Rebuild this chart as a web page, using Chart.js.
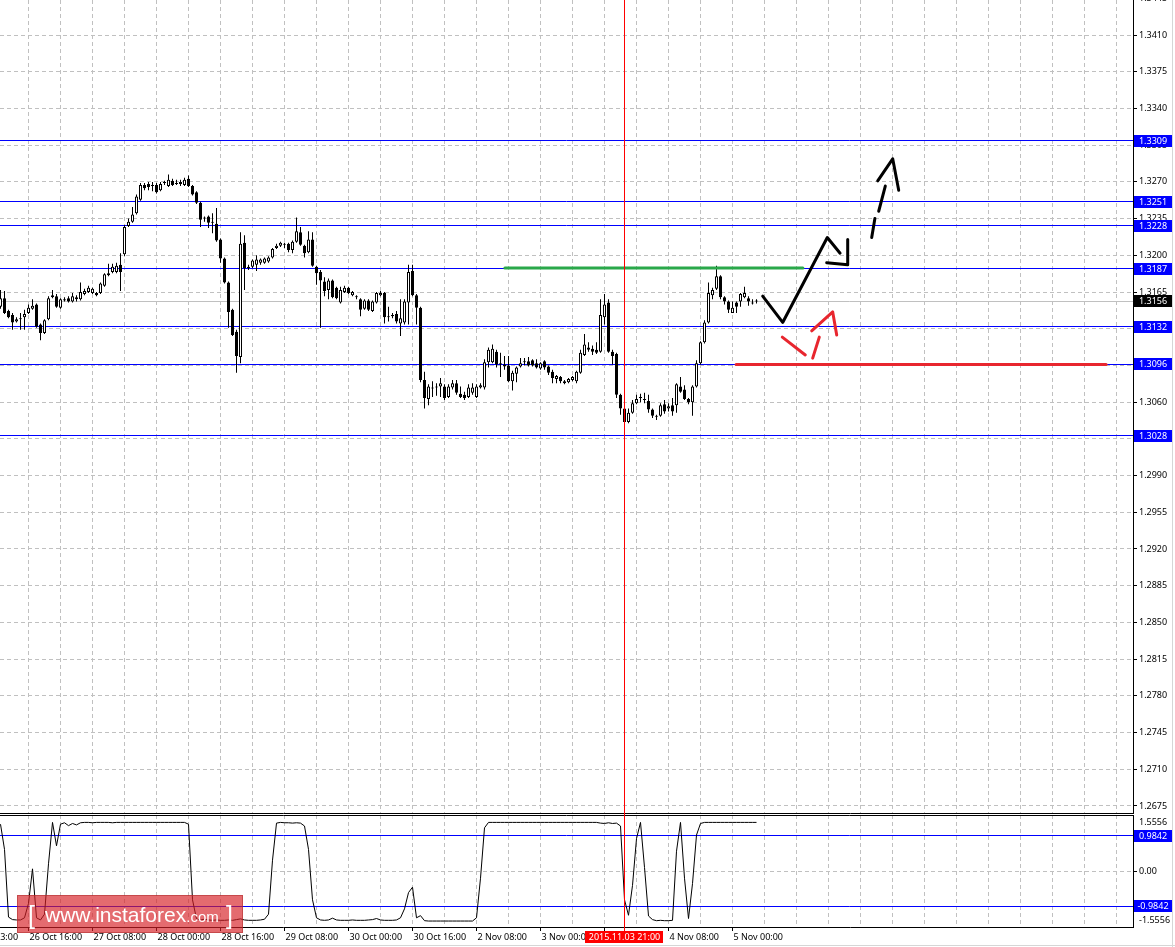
<!DOCTYPE html>
<html>
<head>
<meta charset="utf-8">
<title>EURUSD H1</title>
<script src="https://cdn.jsdelivr.net/npm/chart.js@4.4.0/dist/chart.umd.min.js"></script>
<style>
  html, body { margin: 0; padding: 0; background: #fff; }
  #wrap { position: relative; width: 1175px; height: 947px; overflow: hidden; }
  #priceChart { position: absolute; left: 0; top: 0; }
  #oscChart { position: absolute; left: 0; top: 814px; }
  #edgeRight { position: absolute; left: 1172px; top: 0; width: 1px; height: 947px; background: #d6d6d6; }
  #edgeBottom { position: absolute; left: 0; top: 945px; width: 1175px; height: 1px; background: #d6d6d6; }
</style>
</head>
<body>
<div id="wrap">
  <canvas id="priceChart" width="1175" height="814"></canvas>
  <canvas id="oscChart" width="1175" height="133"></canvas>
  <div id="edgeRight"></div>
  <div id="edgeBottom"></div>
</div>
<script>
// H1 bars, bar 0 = 26 Oct 09:00, bar 156 = 2015.11.03 21:00 (the red marker)
const opens = [
  1.3151, 1.3159, 1.3147, 1.3143, 1.3137, 1.3139, 1.3141, 1.3145, 1.3149, 1.3153,
  1.3134, 1.3126, 1.3139, 1.3160, 1.3161, 1.3150, 1.3158, 1.3159, 1.3156, 1.3160,
  1.3158, 1.3163, 1.3165, 1.3164, 1.3164, 1.3164, 1.3171, 1.3181, 1.3184, 1.3184,
  1.3191, 1.3201, 1.3228, 1.3232, 1.3240, 1.3253, 1.3267, 1.3268, 1.3267, 1.3267,
  1.3262, 1.3269, 1.3266, 1.3271, 1.3269, 1.3270, 1.3267, 1.3273, 1.3266, 1.3260,
  1.3250, 1.3236, 1.3237, 1.3232, 1.3230, 1.3215, 1.3197, 1.3174, 1.3148, 1.3127,
  1.3103, 1.3212, 1.3188, 1.3189, 1.3191, 1.3193, 1.3193, 1.3194, 1.3198, 1.3207,
  1.3209, 1.3210, 1.3211, 1.3205, 1.3213, 1.3222, 1.3209, 1.3203, 1.3215, 1.3189,
  1.3184, 1.3175, 1.3167, 1.3176, 1.3169, 1.3155, 1.3165, 1.3169, 1.3162, 1.3160,
  1.3158, 1.3149, 1.3157, 1.3147, 1.3155, 1.3162, 1.3164, 1.3142, 1.3143, 1.3144,
  1.3135, 1.3136, 1.3155, 1.3185, 1.3162, 1.3150, 1.3081, 1.3063, 1.3074, 1.3074,
  1.3075, 1.3075, 1.3065, 1.3074, 1.3078, 1.3068, 1.3067, 1.3065, 1.3069, 1.3065,
  1.3074, 1.3074, 1.3098, 1.3098, 1.3108, 1.3097, 1.3096, 1.3095, 1.3080, 1.3087,
  1.3094, 1.3099, 1.3099, 1.3100, 1.3097, 1.3092, 1.3099, 1.3094, 1.3089, 1.3082,
  1.3084, 1.3080, 1.3079, 1.3081, 1.3080, 1.3088, 1.3105, 1.3112, 1.3111, 1.3110,
  1.3108, 1.3141, 1.3155, 1.3108, 1.3106, 1.3067, 1.3054, 1.3041, 1.3050, 1.3059,
  1.3065, 1.3063, 1.3061, 1.3053, 1.3047, 1.3047, 1.3058, 1.3054, 1.3057, 1.3057,
  1.3075, 1.3072, 1.3063, 1.3060, 1.3075, 1.3097, 1.3117, 1.3136, 1.3162, 1.3168,
  1.3180, 1.3160, 1.3156, 1.3145, 1.3155, 1.3156, 1.3160, 1.3159, 1.3155, 1.3156
];
const highs = [
  1.3167, 1.3166, 1.3148, 1.3145, 1.3141, 1.3145, 1.3148, 1.3153, 1.3158, 1.3154,
  1.3135, 1.3139, 1.3161, 1.3167, 1.3163, 1.3159, 1.3160, 1.3161, 1.3164, 1.3162,
  1.3174, 1.3168, 1.3171, 1.3169, 1.3165, 1.3174, 1.3183, 1.3192, 1.3192, 1.3193,
  1.3202, 1.3229, 1.3235, 1.3246, 1.3258, 1.3269, 1.3269, 1.3270, 1.3270, 1.3269,
  1.3270, 1.3271, 1.3277, 1.3273, 1.3272, 1.3272, 1.3274, 1.3276, 1.3267, 1.3261,
  1.3251, 1.3237, 1.3238, 1.3240, 1.3245, 1.3216, 1.3198, 1.3175, 1.3149, 1.3129,
  1.3222, 1.3219, 1.3191, 1.3196, 1.3200, 1.3197, 1.3198, 1.3199, 1.3207, 1.3211,
  1.3213, 1.3212, 1.3212, 1.3214, 1.3236, 1.3227, 1.3210, 1.3223, 1.3222, 1.3190,
  1.3186, 1.3179, 1.3178, 1.3177, 1.3170, 1.3170, 1.3171, 1.3170, 1.3166, 1.3162,
  1.3159, 1.3158, 1.3158, 1.3157, 1.3165, 1.3166, 1.3165, 1.3151, 1.3145, 1.3147,
  1.3158, 1.3158, 1.3191, 1.3191, 1.3163, 1.3151, 1.3089, 1.3077, 1.3080, 1.3078,
  1.3083, 1.3077, 1.3077, 1.3081, 1.3081, 1.3075, 1.3070, 1.3077, 1.3078, 1.3077,
  1.3078, 1.3101, 1.3112, 1.3115, 1.3110, 1.3107, 1.3104, 1.3104, 1.3090, 1.3094,
  1.3102, 1.3102, 1.3103, 1.3101, 1.3101, 1.3098, 1.3100, 1.3095, 1.3091, 1.3086,
  1.3085, 1.3081, 1.3083, 1.3085, 1.3090, 1.3110, 1.3125, 1.3117, 1.3114, 1.3117,
  1.3158, 1.3163, 1.3158, 1.3110, 1.3107, 1.3068, 1.3055, 1.3054, 1.3062, 1.3067,
  1.3068, 1.3069, 1.3067, 1.3054, 1.3048, 1.3059, 1.3062, 1.3059, 1.3064, 1.3078,
  1.3084, 1.3076, 1.3064, 1.3076, 1.3100, 1.3118, 1.3138, 1.3174, 1.3169, 1.3190,
  1.3181, 1.3161, 1.3157, 1.3156, 1.3156, 1.3164, 1.3170, 1.3161, 1.3158, 1.3158
];
const lows = [
  1.3149, 1.3144, 1.3140, 1.3129, 1.3136, 1.3129, 1.3129, 1.3144, 1.3148, 1.3131,
  1.3119, 1.3125, 1.3138, 1.3159, 1.3150, 1.3149, 1.3156, 1.3155, 1.3155, 1.3156,
  1.3157, 1.3162, 1.3164, 1.3163, 1.3161, 1.3163, 1.3170, 1.3180, 1.3183, 1.3183,
  1.3166, 1.3199, 1.3227, 1.3231, 1.3239, 1.3252, 1.3262, 1.3262, 1.3261, 1.3259,
  1.3261, 1.3267, 1.3265, 1.3266, 1.3267, 1.3266, 1.3266, 1.3265, 1.3257, 1.3249,
  1.3227, 1.3232, 1.3226, 1.3221, 1.3213, 1.3193, 1.3173, 1.3131, 1.3123, 1.3088,
  1.3097, 1.3167, 1.3186, 1.3188, 1.3185, 1.3191, 1.3192, 1.3193, 1.3197, 1.3206,
  1.3208, 1.3207, 1.3203, 1.3202, 1.3212, 1.3209, 1.3198, 1.3202, 1.3189, 1.3172,
  1.3131, 1.3161, 1.3158, 1.3159, 1.3158, 1.3154, 1.3164, 1.3163, 1.3161, 1.3158,
  1.3142, 1.3148, 1.3147, 1.3146, 1.3154, 1.3161, 1.3135, 1.3137, 1.3140, 1.3135,
  1.3123, 1.3134, 1.3134, 1.3161, 1.3134, 1.3079, 1.3054, 1.3057, 1.3065, 1.3066,
  1.3065, 1.3062, 1.3064, 1.3072, 1.3067, 1.3064, 1.3062, 1.3064, 1.3067, 1.3064,
  1.3073, 1.3072, 1.3093, 1.3097, 1.3093, 1.3084, 1.3091, 1.3079, 1.3071, 1.3079,
  1.3093, 1.3095, 1.3094, 1.3094, 1.3092, 1.3091, 1.3091, 1.3086, 1.3078, 1.3078,
  1.3078, 1.3077, 1.3078, 1.3080, 1.3078, 1.3087, 1.3104, 1.3108, 1.3105, 1.3106,
  1.3107, 1.3134, 1.3107, 1.3096, 1.3064, 1.3048, 1.3039, 1.3040, 1.3049, 1.3058,
  1.3060, 1.3059, 1.3050, 1.3045, 1.3043, 1.3046, 1.3049, 1.3051, 1.3047, 1.3050,
  1.3069, 1.3062, 1.3058, 1.3047, 1.3074, 1.3096, 1.3116, 1.3135, 1.3158, 1.3167,
  1.3158, 1.3153, 1.3145, 1.3145, 1.3145, 1.3151, 1.3159, 1.3152, 1.3153, 1.3154
];
const closes = [
  1.3159, 1.3145, 1.3141, 1.3136, 1.3139, 1.3139, 1.3144, 1.3150, 1.3152, 1.3132,
  1.3126, 1.3138, 1.3159, 1.3162, 1.3151, 1.3158, 1.3157, 1.3156, 1.3161, 1.3158,
  1.3165, 1.3166, 1.3169, 1.3168, 1.3162, 1.3173, 1.3182, 1.3183, 1.3189, 1.3190,
  1.3184, 1.3227, 1.3232, 1.3239, 1.3256, 1.3267, 1.3264, 1.3265, 1.3266, 1.3260,
  1.3268, 1.3270, 1.3272, 1.3267, 1.3268, 1.3268, 1.3272, 1.3266, 1.3258, 1.3250,
  1.3234, 1.3235, 1.3231, 1.3231, 1.3214, 1.3197, 1.3174, 1.3146, 1.3124, 1.3104,
  1.3211, 1.3188, 1.3189, 1.3195, 1.3196, 1.3196, 1.3197, 1.3198, 1.3206, 1.3209,
  1.3212, 1.3211, 1.3205, 1.3213, 1.3223, 1.3210, 1.3202, 1.3215, 1.3190, 1.3183,
  1.3176, 1.3166, 1.3176, 1.3160, 1.3159, 1.3167, 1.3169, 1.3164, 1.3165, 1.3161,
  1.3148, 1.3157, 1.3148, 1.3156, 1.3164, 1.3164, 1.3141, 1.3141, 1.3142, 1.3137,
  1.3140, 1.3156, 1.3184, 1.3162, 1.3150, 1.3081, 1.3064, 1.3075, 1.3073, 1.3075,
  1.3078, 1.3064, 1.3075, 1.3078, 1.3069, 1.3065, 1.3064, 1.3074, 1.3074, 1.3075,
  1.3076, 1.3098, 1.3110, 1.3111, 1.3096, 1.3096, 1.3094, 1.3080, 1.3088, 1.3093,
  1.3097, 1.3098, 1.3095, 1.3095, 1.3093, 1.3097, 1.3093, 1.3088, 1.3083, 1.3085,
  1.3080, 1.3078, 1.3082, 1.3084, 1.3089, 1.3107, 1.3115, 1.3110, 1.3108, 1.3107,
  1.3143, 1.3153, 1.3108, 1.3104, 1.3067, 1.3054, 1.3041, 1.3050, 1.3059, 1.3063,
  1.3064, 1.3062, 1.3053, 1.3047, 1.3046, 1.3057, 1.3051, 1.3056, 1.3051, 1.3077,
  1.3070, 1.3063, 1.3060, 1.3075, 1.3097, 1.3117, 1.3136, 1.3164, 1.3167, 1.3180,
  1.3160, 1.3156, 1.3148, 1.3150, 1.3151, 1.3163, 1.3164, 1.3156, 1.3154, 1.3156
];

// lower window oscillator, one value per bar
const oscValues = [
  1.30, 0.60, -1.28, -1.35, -1.36, -1.36, -1.30, -0.90, 0.06, -1.30,
  -1.36, -1.20, 0.20, 1.35, 0.70, 1.30, 1.34, 1.26, 1.32, 1.28,
  1.34, 1.35, 1.35, 1.34, 1.35, 1.35, 1.35, 1.35, 1.34, 1.35,
  1.35, 1.35, 1.35, 1.35, 1.35, 1.35, 1.35, 1.35, 1.35, 1.35,
  1.35, 1.35, 1.35, 1.35, 1.35, 1.35, 1.35, 1.30, -0.80, -1.33,
  -1.36, -1.34, -1.36, -1.37, -1.36, -1.37, -1.37, -1.36, -1.37, -1.35,
  -1.33, -1.36, -1.37, -1.37, -1.37, -1.36, -1.34, -1.20, 0.30, 1.33,
  1.35, 1.34, 1.34, 1.33, 1.34, 1.33, 1.25, 0.60, -0.80, -1.30,
  -1.36, -1.37, -1.36, -1.31, -1.36, -1.37, -1.37, -1.37, -1.36, -1.37,
  -1.37, -1.37, -1.36, -1.35, -1.32, -1.36, -1.37, -1.37, -1.37, -1.36,
  -1.30, -1.05, -0.60, -0.45, -1.30, -1.24, -1.38, -1.39, -1.39, -1.39,
  -1.39, -1.39, -1.39, -1.39, -1.39, -1.39, -1.39, -1.39, -1.39, -1.30,
  -0.20, 1.20, 1.35, 1.35, 1.35, 1.35, 1.35, 1.35, 1.35, 1.35,
  1.35, 1.35, 1.35, 1.35, 1.35, 1.35, 1.35, 1.35, 1.35, 1.35,
  1.35, 1.35, 1.35, 1.35, 1.35, 1.35, 1.35, 1.35, 1.35, 1.35,
  1.33, 1.32, 1.34, 1.32, 1.33, 1.25, -0.80, -1.23, -0.40, 0.90,
  1.35, 0.10, -1.25, -1.35, -1.38, -1.37, -1.38, -1.38, -1.37, 0.55,
  1.35, -0.20, -1.32, -0.35, 1.00, 1.32, 1.35, 1.35, 1.35, 1.35,
  1.35, 1.35, 1.35, 1.35, 1.35, 1.35, 1.35, 1.35, 1.35, 1.35
];

// horizontal levels and axis labels
const levelPrices = [1.3309, 1.3251, 1.3228, 1.3187, 1.3132, 1.3096, 1.3028];
const lastPrice = 1.3156;
const priceTicks = [1.2675, 1.2710, 1.2745, 1.2780, 1.2815, 1.2850, 1.2885, 1.2920, 1.2955, 1.2990,
  1.3025, 1.3060, 1.3095, 1.3130, 1.3165, 1.3200, 1.3235, 1.3270, 1.3305, 1.3340, 1.3375, 1.3410, 1.3445];
const oscLevels = [0.9842, -0.9842];
const oscTicks = [1.36, 0, -1.36];
const oscTickLabels = ['1.5556', '0.00', '-1.5556'];
const timeTickBars = [-9, 7, 23, 39, 55, 71, 87, 103, 119, 135, 151, 167, 183];
const timeTickLabels = ['25 Oct 23:00', '26 Oct 16:00', '27 Oct 08:00', '28 Oct 00:00', '28 Oct 16:00',
  '29 Oct 08:00', '30 Oct 00:00', '30 Oct 16:00', '2 Nov 08:00', '3 Nov 00:00', '3 Nov 16:00',
  '4 Nov 08:00', '5 Nov 00:00'];
const markerBar = 156;
const markerLabel = '2015.11.03 21:00';

// hand drawn analysis marks, [bar, price], null = pen lifted
const greenLine = [[126.1, 1.3188], [200.6, 1.3188]];
const redLevel = [[183.9, 1.3096], [276.4, 1.3096]];
const blackPath = [[190.55, 1.3161], [195.55, 1.3136], [206.7, 1.3217], [209.9, 1.3202], null,
  [206.55, 1.3193], [211.8, 1.3191], [211.8, 1.3215]];
const blackDashed = [[217.8, 1.3217], [218.6, 1.3235], null, [219.55, 1.3242], [221.2, 1.3266], null,
  [219.3, 1.3271], [223.05, 1.3292], [224.55, 1.3262]];
const redPath = [[195.45, 1.3122], [201.2, 1.3105], null, [203.05, 1.3102], [204.7, 1.3122], null,
  [202.8, 1.3128], [208.05, 1.3146], [209.05, 1.3124]];

// ---- layout ----
const xMin = -0.125, xMax = 283.125;     // 4 px per bar
const yMin = 1.26683, yMax = 1.34434;
const gridColor = '#c0c0c0';
const levelBlue = '#0000ff';
const axisFont = { family: 'Noto Sans', size: 9 };
const gridBars = [];
for (let b = -9; b <= xMax; b += 8) gridBars.push(b);

function toPoints(list) {
  return list.map(p => p ? { x: p[0], y: p[1] } : { x: null, y: null });
}
function timeLabel(v) {
  const k = timeTickBars.indexOf(v);
  return k >= 0 ? timeTickLabels[k] : '';
}
function hline(ctx, area, py) {
  const yy = Math.round(py - 0.5) + 0.5;
  ctx.beginPath();
  ctx.moveTo(area.left, yy);
  ctx.lineTo(area.right, yy);
  ctx.stroke();
}
function axisTag(ctx, left, py, text, color) {
  const yy = Math.round(py);
  ctx.fillStyle = color;
  ctx.fillRect(left, yy - 6, 38, 12);
  ctx.fillStyle = '#fff';
  ctx.font = '9px "Noto Sans"';
  ctx.textAlign = 'center';
  ctx.textBaseline = 'middle';
  ctx.fillText(text, left + 19, yy + 0.5);
}
function markerLine(chart, bottom) {
  const ctx = chart.ctx;
  const px = Math.round(chart.scales.x.getPixelForValue(markerBar) - 0.5) + 0.5;
  ctx.save();
  ctx.strokeStyle = '#ff0000';
  ctx.lineWidth = 1;
  ctx.beginPath();
  ctx.moveTo(px, 0);
  ctx.lineTo(px, bottom);
  ctx.stroke();
  ctx.restore();
}

const bars = opens.map((o, i) => i);
const wickData = bars.map(i => ({ x: i, y: [lows[i], highs[i]] }));
const bodyData = bars.map(i => ({ x: i, y: [opens[i], closes[i]] }));

function drawing(data, color) {
  return {
    type: 'line', data: toPoints(data), borderColor: color, borderWidth: 3,
    pointRadius: 0, spanGaps: false, tension: 0, order: 0,
    borderJoinStyle: 'round', borderCapStyle: 'round'
  };
}

// ---- price window ----
const priceOverlay = {
  id: 'priceOverlay',
  beforeDatasetsDraw(chart) {
    const { ctx, chartArea, scales: { y } } = chart;
    ctx.save();
    ctx.lineWidth = 1;
    ctx.strokeStyle = gridColor;
    hline(ctx, chartArea, y.getPixelForValue(lastPrice));
    ctx.strokeStyle = levelBlue;
    levelPrices.forEach(p => hline(ctx, chartArea, y.getPixelForValue(p)));
    ctx.restore();
  },
  afterDatasetsDraw(chart) {
    markerLine(chart, chart.height);
  },
  afterDraw(chart) {
    const { ctx, chartArea, scales: { y } } = chart;
    ctx.save();
    levelPrices.forEach(p => axisTag(ctx, chartArea.right + 1, y.getPixelForValue(p), p.toFixed(4), levelBlue));
    axisTag(ctx, chartArea.right + 1, y.getPixelForValue(lastPrice), lastPrice.toFixed(4), '#000');
    ctx.restore();
  }
};

new Chart(document.getElementById('priceChart'), {
  type: 'bar',
  data: {
    datasets: [
      {
        label: 'wick', data: wickData, backgroundColor: '#000', borderWidth: 0,
        barThickness: 1, maxBarThickness: 1, grouped: false, inflateAmount: 0, order: 2
      },
      {
        label: 'body', data: bodyData,
        backgroundColor: c => closes[c.dataIndex] >= opens[c.dataIndex] ? '#fff' : '#000',
        borderColor: '#000', borderWidth: 1, borderSkipped: false, minBarLength: 1,
        barThickness: 3, maxBarThickness: 3, grouped: false, inflateAmount: 0, order: 1
      },
      drawing(greenLine, '#2aa84a'),
      drawing(redLevel, '#e8262e'),
      drawing(blackPath, '#000'),
      drawing(blackDashed, '#000'),
      drawing(redPath, '#e8262e')
    ]
  },
  options: {
    responsive: false, animation: false, events: [],
    layout: { padding: 0 },
    plugins: { legend: { display: false }, tooltip: { enabled: false } },
    scales: {
      x: {
        type: 'linear', min: xMin, max: xMax, offset: false, bounds: 'data',
        grid: { color: gridColor, drawTicks: false, offset: false },
        border: { display: true, color: '#000', dash: [4, 3] },
        ticks: { display: false },
        afterBuildTicks: s => { s.ticks = gridBars.map(v => ({ value: v })); },
        afterFit: s => { s.height = 1; s.paddingLeft = 0; s.paddingRight = 0; }
      },
      y: {
        type: 'linear', position: 'right', min: yMin, max: yMax, beginAtZero: false, bounds: 'data',
        grid: { color: gridColor, tickColor: '#000', tickLength: 4 },
        border: { display: true, color: '#000', dash: [4, 3] },
        ticks: { color: '#000', font: axisFont, padding: 2, autoSkip: false, callback: v => v.toFixed(4) },
        afterBuildTicks: s => { s.ticks = priceTicks.map(v => ({ value: v })); },
        afterFit: s => { s.width = 42; s.paddingTop = 0; s.paddingBottom = 0; }
      }
    }
  },
  plugins: [priceOverlay]
});

// ---- oscillator window ----
const oscOverlay = {
  id: 'oscOverlay',
  beforeDatasetsDraw(chart) {
    const { ctx, chartArea, scales: { y } } = chart;
    ctx.save();
    ctx.lineWidth = 1;
    ctx.strokeStyle = '#000';
    hline(ctx, chartArea, chartArea.top + 0.5);
    ctx.strokeStyle = levelBlue;
    oscLevels.forEach(v => hline(ctx, chartArea, y.getPixelForValue(v)));
    ctx.restore();
  },
  afterDatasetsDraw(chart) {
    markerLine(chart, chart.chartArea.bottom + 4);
  },
  afterDraw(chart) {
    const { ctx, chartArea, scales: { x, y } } = chart;
    ctx.save();
    oscLevels.forEach(v => axisTag(ctx, chartArea.right + 1, y.getPixelForValue(v), v.toFixed(4), levelBlue));

    // time tag of the marker line
    ctx.font = '9px "Noto Sans"';
    const mx = x.getPixelForValue(markerBar);
    const w = Math.ceil(ctx.measureText(markerLabel).width) + 6;
    ctx.fillStyle = '#ff0000';
    ctx.fillRect(Math.round(mx - w / 2), chartArea.bottom + 4, w, 12);
    ctx.fillStyle = '#fff';
    ctx.textAlign = 'center';
    ctx.textBaseline = 'middle';
    ctx.fillText(markerLabel, mx, chartArea.bottom + 10.5);

    // site watermark
    ctx.fillStyle = 'rgba(214, 30, 36, 0.66)';
    ctx.fillRect(17, 81, 226, 38);
    ctx.strokeStyle = 'rgba(170, 40, 40, 0.5)';
    ctx.strokeRect(17.5, 81.5, 225, 37);
    ctx.fillStyle = '#fff';
    ctx.textAlign = 'left';
    ctx.textBaseline = 'alphabetic';
    ctx.font = '25px "Liberation Sans"';
    ctx.fillText('[', 28, 110);
    ctx.font = '21px "Liberation Sans"';
    ctx.fillText('www.instaforex', 45, 108);
    const tx = 45 + ctx.measureText('www.instaforex').width;
    ctx.font = '15px "Liberation Sans"';
    ctx.fillText('.com', tx, 108);
    ctx.font = '25px "Liberation Sans"';
    ctx.fillText(']', 226, 110);
    ctx.restore();
  }
};

new Chart(document.getElementById('oscChart'), {
  type: 'line',
  data: {
    datasets: [{
      data: bars.map(i => ({ x: i, y: oscValues[i] })),
      borderColor: '#000', borderWidth: 1, pointRadius: 0, tension: 0
    }]
  },
  options: {
    responsive: false, animation: false, events: [],
    layout: { padding: { top: 1, left: 0, right: 0, bottom: 0 } },
    plugins: { legend: { display: false }, tooltip: { enabled: false } },
    scales: {
      x: {
        type: 'linear', min: xMin, max: xMax, offset: false, bounds: 'data',
        grid: {
          color: gridColor, tickLength: 4,
          tickColor: c => (c.tick && timeLabel(c.tick.value)) ? '#000' : 'rgba(0,0,0,0)'
        },
        border: { display: true, color: '#000', dash: [4, 3] },
        ticks: {
          autoSkip: false, maxRotation: 0, minRotation: 0, align: 'start', padding: 1, labelOffset: 1,
          color: '#000', font: axisFont, callback: v => timeLabel(v)
        },
        afterBuildTicks: s => { s.ticks = gridBars.map(v => ({ value: v })); },
        afterFit: s => { s.height = 20; s.paddingLeft = 0; s.paddingRight = 0; }
      },
      y: {
        type: 'linear', position: 'right', min: -1.5556, max: 1.5556, bounds: 'data',
        grid: {
          tickLength: 4,
          color: c => (c.tick && c.tick.value === 0) ? gridColor : 'rgba(0,0,0,0)',
          tickColor: c => (c.tick && c.tick.value === 0) ? '#000' : 'rgba(0,0,0,0)'
        },
        border: { display: true, color: '#000', dash: [4, 3] },
        ticks: { color: '#000', font: axisFont, padding: 2, autoSkip: false, callback: (v, i) => oscTickLabels[i] },
        afterBuildTicks: s => { s.ticks = oscTicks.map(v => ({ value: v })); },
        afterFit: s => { s.width = 42; s.paddingTop = 0; s.paddingBottom = 0; }
      }
    }
  },
  plugins: [oscOverlay]
});
</script>
</body>
</html>
